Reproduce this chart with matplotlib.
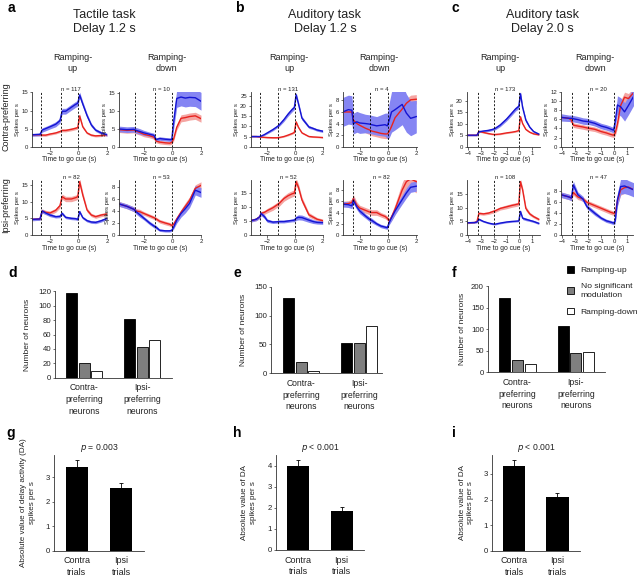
import matplotlib
matplotlib.use('Agg')
import matplotlib.pyplot as plt
from matplotlib.patches import Patch

plt.rcParams['font.family'] = ['Liberation Sans', 'DejaVu Sans']

W, H = 640, 576

# ---------------- PSTH data (spikes per s) ----------------
# time grids (s, relative to go cue)
T_A = [-3.75, -3.2, -2.7, -2.55, -2.3, -2.0, -1.6, -1.3, -1.15, -0.9, -0.5, -0.2, -0.05, 0.08, 0.3, 0.6, 0.9, 1.2, 1.6, 2.0]
T_B = [-3.2, -2.8, -2.55, -2.45, -2.2, -2.0, -1.6, -1.3, -1.15, -0.8, -0.5, -0.2, -0.05, 0.08, 0.25, 0.5, 1.0, 1.3, 1.6, 2.0]
T_C = [-4.1, -3.5, -3.3, -3.15, -2.8, -2.4, -2.1, -1.9, -1.5, -1.0, -0.6, -0.3, -0.05, 0.08, 0.25, 0.5, 0.8, 1.1, 1.5]

# a: tactile task, contra-preferring
A_UP_C_BLUE = [3.3, 3.3, 3.4, 4.6, 5.0, 5.5, 6.2, 7.2, 9.8, 9.8, 10.9, 11.7, 12.0, 14.3, 11.8, 8.6, 6.0, 4.6, 3.8, 3.3]
A_UP_C_BLUE_SEM = [0.4, 0.4, 0.4, 0.6, 0.6, 0.6, 0.7, 0.7, 0.8, 0.8, 0.8, 0.8, 0.8, 0.8, 0.7, 0.6, 0.5, 0.4, 0.4, 0.4]
A_UP_C_RED = [3.3, 3.3, 3.3, 3.2, 3.2, 3.5, 3.8, 4.2, 4.5, 4.5, 4.8, 5.1, 5.3, 8.5, 5.5, 3.8, 3.2, 3.0, 3.1, 3.3]
A_UP_C_RED_SEM = [0.3, 0.3, 0.3, 0.3, 0.3, 0.3, 0.3, 0.3, 0.4, 0.4, 0.4, 0.4, 0.4, 0.6, 0.4, 0.3, 0.3, 0.3, 0.3, 0.3]
A_DN_C_BLUE = [5.0, 4.8, 4.9, 4.6, 4.3, 3.9, 3.5, 3.2, 2.0, 2.3, 2.1, 2.0, 2.0, 7.0, 13.6, 14.0, 13.7, 13.9, 13.8, 12.8]
A_DN_C_BLUE_SEM = [0.8, 0.8, 0.8, 0.8, 0.8, 0.7, 0.6, 0.6, 0.5, 0.5, 0.5, 0.5, 0.6, 2.0, 2.5, 2.5, 2.5, 2.5, 2.5, 2.5]
A_DN_C_RED = [4.8, 4.6, 4.7, 4.4, 4.0, 3.5, 3.1, 2.7, 1.6, 1.3, 1.1, 1.0, 1.2, 2.2, 5.5, 8.0, 8.2, 8.5, 8.7, 7.9]
A_DN_C_RED_SEM = [0.8, 0.8, 0.8, 0.8, 0.7, 0.7, 0.6, 0.6, 0.5, 0.5, 0.5, 0.5, 0.5, 0.6, 0.8, 1.0, 1.0, 1.0, 1.0, 1.0]
# a: tactile task, ipsi-preferring
A_UP_I_BLUE = [4.7, 4.7, 4.8, 7.2, 6.6, 6.0, 5.5, 5.6, 6.5, 5.3, 5.0, 4.9, 4.7, 7.0, 5.2, 4.3, 3.9, 3.8, 4.3, 5.0]
A_UP_I_BLUE_SEM = [0.4, 0.4, 0.4, 0.6, 0.5, 0.5, 0.4, 0.4, 0.5, 0.4, 0.4, 0.4, 0.4, 0.5, 0.4, 0.4, 0.4, 0.4, 0.4, 0.4]
A_UP_I_RED = [4.7, 4.7, 4.8, 7.2, 6.8, 6.6, 7.4, 8.8, 11.5, 10.8, 10.8, 11.2, 11.5, 16.0, 12.0, 7.5, 6.0, 5.5, 6.0, 6.3]
A_UP_I_RED_SEM = [0.4, 0.4, 0.4, 0.6, 0.6, 0.6, 0.6, 0.7, 0.8, 0.8, 0.8, 0.8, 0.8, 1.0, 0.9, 0.6, 0.5, 0.5, 0.5, 0.5]
A_DN_I_BLUE = [5.2, 4.8, 4.3, 3.9, 3.4, 2.8, 2.0, 1.5, 1.3, 0.8, 0.7, 0.7, 0.8, 1.3, 2.5, 3.6, 4.4, 5.3, 7.5, 7.1]
A_DN_I_BLUE_SEM = [0.4, 0.4, 0.4, 0.4, 0.4, 0.3, 0.3, 0.3, 0.3, 0.2, 0.2, 0.2, 0.2, 0.3, 0.5, 0.6, 0.7, 0.7, 0.8, 0.8]
A_DN_I_RED = [5.2, 4.8, 4.3, 4.0, 3.9, 3.6, 3.2, 2.9, 2.7, 2.3, 2.0, 1.8, 1.6, 1.8, 2.7, 3.8, 4.8, 5.8, 7.8, 8.3]
A_DN_I_RED_SEM = [0.4, 0.4, 0.4, 0.4, 0.4, 0.3, 0.3, 0.3, 0.3, 0.3, 0.3, 0.3, 0.3, 0.3, 0.4, 0.5, 0.6, 0.6, 0.6, 0.6]

# b: auditory task 1.2 s, contra-preferring
B_UP_C_BLUE = [5.0, 5.0, 5.0, 5.2, 6.0, 6.8, 8.4, 9.8, 10.6, 13.3, 16.0, 18.3, 19.2, 25.5, 21.0, 14.0, 9.7, 9.0, 8.2, 7.6]
B_UP_C_BLUE_SEM = [0.3, 0.3, 0.3, 0.4, 0.4, 0.5, 0.6, 0.6, 0.7, 0.9, 1.0, 1.1, 1.1, 1.3, 1.1, 0.9, 0.7, 0.6, 0.6, 0.6]
B_UP_C_RED = [5.0, 5.0, 4.8, 4.7, 4.6, 4.5, 4.4, 4.4, 4.5, 5.0, 5.7, 6.5, 7.0, 12.2, 9.5, 6.8, 5.0, 4.8, 4.7, 4.5]
B_UP_C_RED_SEM = [0.3, 0.3, 0.3, 0.3, 0.3, 0.3, 0.3, 0.3, 0.3, 0.3, 0.4, 0.4, 0.4, 0.6, 0.5, 0.4, 0.3, 0.3, 0.3, 0.3]
B_DN_C_BLUE = [6.0, 6.4, 6.3, 4.0, 4.3, 4.1, 4.0, 3.9, 3.8, 3.6, 3.7, 3.8, 3.6, 4.5, 6.0, 6.4, 7.3, 5.8, 4.9, 5.2]
B_DN_C_BLUE_SEM = [2.5, 2.5, 2.5, 1.8, 1.8, 1.8, 1.6, 1.6, 1.6, 1.6, 1.8, 2.0, 2.2, 3.0, 3.5, 3.5, 3.5, 3.3, 3.0, 2.8]
B_DN_C_RED = [6.0, 6.0, 6.0, 4.6, 4.0, 3.7, 3.2, 2.9, 2.7, 2.5, 2.3, 2.2, 2.2, 2.6, 3.5, 5.0, 6.5, 7.5, 8.1, 8.2]
B_DN_C_RED_SEM = [1.0, 1.0, 1.0, 0.8, 0.8, 0.8, 0.8, 0.8, 0.8, 0.8, 0.8, 0.8, 0.8, 0.8, 0.8, 0.8, 0.8, 0.8, 0.8, 0.8]
# b: auditory task 1.2 s, ipsi-preferring
B_UP_I_BLUE = [5.1, 5.6, 6.5, 7.7, 6.5, 5.1, 4.6, 4.7, 4.8, 4.8, 5.0, 5.2, 5.3, 6.0, 6.3, 6.2, 5.3, 4.8, 4.5, 4.4]
B_UP_I_BLUE_SEM = [0.5, 0.5, 0.6, 0.8, 0.7, 0.6, 0.5, 0.5, 0.5, 0.5, 0.5, 0.5, 0.6, 0.8, 0.9, 0.9, 0.8, 0.7, 0.6, 0.6]
B_UP_I_RED = [5.1, 5.6, 6.5, 7.7, 8.1, 8.7, 9.7, 10.7, 11.2, 13.0, 14.0, 14.7, 14.9, 19.0, 17.0, 12.5, 7.2, 6.4, 5.6, 5.1]
B_UP_I_RED_SEM = [0.5, 0.5, 0.6, 0.7, 0.7, 0.8, 0.9, 0.9, 1.0, 1.0, 1.1, 1.1, 1.1, 1.3, 1.2, 1.0, 0.8, 0.7, 0.6, 0.6]
B_DN_I_BLUE = [5.5, 5.4, 5.2, 6.2, 5.0, 4.3, 3.4, 2.8, 2.6, 2.0, 1.6, 1.4, 1.3, 2.2, 3.1, 4.3, 6.3, 7.5, 8.5, 8.7]
B_DN_I_BLUE_SEM = [0.5, 0.5, 0.5, 0.6, 0.5, 0.5, 0.4, 0.4, 0.4, 0.3, 0.3, 0.3, 0.3, 0.4, 0.6, 0.7, 0.8, 0.9, 0.9, 0.9]
B_DN_I_RED = [5.5, 5.6, 5.8, 6.5, 5.3, 4.8, 4.4, 4.1, 4.0, 4.0, 3.6, 3.3, 3.0, 2.5, 3.2, 4.6, 8.0, 9.5, 10.0, 9.5]
B_DN_I_RED_SEM = [0.5, 0.5, 0.6, 0.7, 0.6, 0.5, 0.5, 0.5, 0.5, 0.5, 0.4, 0.4, 0.4, 0.4, 0.6, 0.9, 1.3, 1.5, 1.8, 2.0]

# c: auditory task 2.0 s, contra-preferring
C_UP_C_BLUE = [5.0, 5.0, 5.0, 6.5, 6.8, 7.1, 7.5, 7.9, 9.4, 12.0, 14.5, 16.4, 17.5, 23.0, 17.0, 11.5, 8.5, 6.6, 5.5]
C_UP_C_BLUE_SEM = [0.3, 0.3, 0.3, 0.4, 0.4, 0.5, 0.5, 0.6, 0.7, 0.8, 0.9, 0.9, 1.0, 1.0, 0.9, 0.7, 0.5, 0.4, 0.4]
C_UP_C_RED = [5.0, 5.0, 5.0, 6.7, 6.2, 5.7, 5.4, 5.3, 5.5, 6.0, 6.3, 6.6, 7.0, 13.0, 10.0, 7.5, 6.3, 5.6, 5.2]
C_UP_C_RED_SEM = [0.3, 0.3, 0.3, 0.4, 0.3, 0.3, 0.3, 0.3, 0.3, 0.3, 0.3, 0.3, 0.4, 0.6, 0.5, 0.4, 0.3, 0.3, 0.3]
C_DN_C_BLUE = [6.4, 6.2, 6.2, 6.1, 5.9, 5.6, 5.5, 5.4, 5.1, 4.5, 4.2, 3.9, 3.6, 5.5, 9.1, 8.7, 7.6, 9.0, 11.0]
C_DN_C_BLUE_SEM = [0.8, 0.7, 0.7, 0.7, 0.7, 0.7, 0.7, 0.6, 0.6, 0.6, 0.6, 0.6, 0.6, 1.2, 2.0, 2.0, 2.0, 2.0, 2.0]
C_DN_C_RED = [6.4, 6.2, 5.8, 4.7, 4.5, 4.3, 4.1, 4.0, 3.8, 3.3, 3.0, 2.7, 2.5, 3.0, 5.0, 9.0, 10.8, 10.5, 11.8]
C_DN_C_RED_SEM = [0.6, 0.6, 0.6, 0.5, 0.5, 0.5, 0.5, 0.5, 0.5, 0.5, 0.5, 0.5, 0.5, 0.6, 0.9, 1.1, 1.1, 1.1, 1.1]
# c: auditory task 2.0 s, ipsi-preferring
C_UP_I_BLUE = [4.5, 4.6, 4.8, 5.8, 5.0, 4.4, 4.1, 4.0, 4.4, 4.8, 5.0, 5.1, 5.2, 8.7, 6.2, 5.8, 5.4, 5.0, 4.3]
C_UP_I_BLUE_SEM = [0.3, 0.3, 0.3, 0.4, 0.3, 0.3, 0.3, 0.3, 0.3, 0.3, 0.3, 0.3, 0.3, 0.5, 0.5, 0.5, 0.4, 0.4, 0.4]
C_UP_I_RED = [4.5, 4.6, 5.0, 8.0, 7.8, 8.1, 8.6, 8.9, 9.8, 10.4, 10.9, 11.2, 11.5, 19.7, 16.6, 9.8, 7.8, 6.8, 5.8]
C_UP_I_RED_SEM = [0.3, 0.3, 0.3, 0.5, 0.5, 0.5, 0.6, 0.6, 0.6, 0.7, 0.7, 0.7, 0.7, 1.0, 1.0, 0.8, 0.6, 0.5, 0.5]
C_DN_I_BLUE = [7.4, 7.0, 6.8, 9.2, 7.4, 6.6, 5.2, 4.8, 4.0, 3.1, 2.6, 2.4, 2.2, 2.6, 6.5, 8.9, 9.0, 8.7, 8.3]
C_DN_I_BLUE_SEM = [0.5, 0.5, 0.5, 0.7, 0.5, 0.5, 0.4, 0.4, 0.4, 0.3, 0.3, 0.3, 0.3, 0.5, 1.2, 1.4, 1.4, 1.3, 1.3]
C_DN_I_RED = [7.4, 7.0, 6.8, 7.8, 7.0, 6.6, 6.0, 5.8, 5.4, 4.9, 4.5, 4.2, 4.0, 4.0, 6.3, 8.3, 8.7, 8.8, 8.3]
C_DN_I_RED_SEM = [0.5, 0.5, 0.5, 0.5, 0.5, 0.4, 0.4, 0.4, 0.4, 0.4, 0.4, 0.4, 0.4, 0.4, 0.8, 1.0, 1.0, 1.0, 1.0]

N_CONTRA = [117, 10, 131, 4, 173, 20]
N_IPSI = [82, 53, 52, 82, 108, 47]

# ---------------- bar data ----------------
GROUPS = ['Contra-\npreferring\nneurons', 'Ipsi-\npreferring\nneurons']
D_UP, D_NS, D_DOWN = [117, 82], [20, 42], [10, 53]
E_UP, E_NS, E_DOWN = [131, 52], [20, 52], [4, 82]
F_UP, F_NS, F_DOWN = [173, 108], [29, 45], [20, 47]

TRIALS = ['Contra\ntrials', 'Ipsi\ntrials']
G_MEAN, G_SEM = [3.43, 2.57], [0.27, 0.20]
H_MEAN, H_SEM = [3.98, 1.86], [0.28, 0.16]
I_MEAN, I_SEM = [3.32, 2.11], [0.22, 0.16]

BLUE, BLUE_BAND = '#1414d2', '#8585f3'
RED, RED_BAND = '#e8231f', '#f5a5a2'
TXT = '#222222'

fig = plt.figure(figsize=(W / 100, H / 100), dpi=100)


def add_ax(l, r, t, b):
    return fig.add_axes([l / W, 1 - b / H, (r - l) / W, (b - t) / H])


def ftext(x, y, s, **kw):
    fig.text(x / W, 1 - y / H, s, color=TXT, **kw)


def style(ax, fs):
    for s in ['top', 'right']:
        ax.spines[s].set_visible(False)
    for s in ['left', 'bottom']:
        ax.spines[s].set_linewidth(0.6)
        ax.spines[s].set_color('#333333')
    ax.tick_params(labelsize=fs, width=0.5, length=1.8, pad=1, colors='#333333', labelcolor=TXT)


def psth(box, t, blue, bsem, red, rsem, xlim, ylim, yticks, xticks, events, n):
    ax = add_ax(*box)
    style(ax, 4.3)
    for m, s, c, bc in [(red, rsem, RED, RED_BAND), (blue, bsem, BLUE, BLUE_BAND)]:
        lo = [a - e for a, e in zip(m, s)]
        hi = [a + e for a, e in zip(m, s)]
        ax.fill_between(t, lo, hi, color=bc, lw=0)
        ax.plot(t, m, color=c, lw=1.0)
    for e in events:
        ax.axvline(e, color='k', ls=(0, (2.5, 2)), lw=0.6)
    ax.set_xlim(*xlim)
    ax.set_ylim(*ylim)
    ax.set_yticks(yticks)
    ax.set_xticks(xticks)
    ax.set_ylabel('Spikes per s', fontsize=4.3, labelpad=1, color=TXT)
    ax.set_xlabel('Time to go cue (s)', fontsize=4.9, labelpad=0.5, color=TXT)
    ax.text(0.52, 1.0, 'n = %d' % n, transform=ax.transAxes, ha='center', va='bottom',
            fontsize=4.3, color=TXT)
    return ax


EV_A, EV_B, EV_C = [-2.65, -1.2, 0], [-2.5, -1.25, 0], [-3.25, -2.0, 0]
R1, R2 = (91.7, 146.7), (180, 235)

# row 1: contra-preferring
psth((32, 107) + R1, T_A, A_UP_C_BLUE, A_UP_C_BLUE_SEM, A_UP_C_RED, A_UP_C_RED_SEM,
     (-3.26, 2), (0, 15.2), [0, 5, 10, 15], [-2, 0, 2], EV_A, N_CONTRA[0])
psth((119, 201) + R1, T_A, A_DN_C_BLUE, A_DN_C_BLUE_SEM, A_DN_C_RED, A_DN_C_RED_SEM,
     (-3.75, 2), (0, 15.5), [0, 5, 10, 15], [-2, 0, 2], EV_A, N_CONTRA[1])
psth((250.7, 322.7) + R1, T_B, B_UP_C_BLUE, B_UP_C_BLUE_SEM, B_UP_C_RED, B_UP_C_RED_SEM,
     (-3.2, 2), (0, 27), [0, 5, 10, 15, 20, 25], [-2, 0, 2], EV_B, N_CONTRA[2])
psth((342.7, 417) + R1, T_B, B_DN_C_BLUE, B_DN_C_BLUE_SEM, B_DN_C_RED, B_DN_C_RED_SEM,
     (-3.2, 2.05), (0, 9.5), [0, 2, 4, 6, 8], [-2, 0, 2], EV_B, N_CONTRA[3])
psth((466.7, 540) + R1, T_C, C_UP_C_BLUE, C_UP_C_BLUE_SEM, C_UP_C_RED, C_UP_C_RED_SEM,
     (-4.1, 1.6), (0, 23.9), [0, 5, 10, 15, 20], [-4, -3, -2, -1, 0, 1], EV_C, N_CONTRA[4])
psth((561, 633) + R1, T_C, C_DN_C_BLUE, C_DN_C_BLUE_SEM, C_DN_C_RED, C_DN_C_RED_SEM,
     (-4.1, 1.45), (0, 12), [0, 2, 4, 6, 8, 10, 12], [-4, -3, -2, -1, 0, 1], EV_C, N_CONTRA[5])
# row 2: ipsi-preferring
psth((32, 107) + R2, T_A, A_UP_I_BLUE, A_UP_I_BLUE_SEM, A_UP_I_RED, A_UP_I_RED_SEM,
     (-3.26, 2), (0, 16.5), [0, 5, 10, 15], [-2, 0, 2], EV_A, N_IPSI[0])
psth((119, 201) + R2, T_A, A_DN_I_BLUE, A_DN_I_BLUE_SEM, A_DN_I_RED, A_DN_I_RED_SEM,
     (-3.75, 2), (0, 9.2), [0, 2, 4, 6, 8], [-2, 0, 2], EV_A, N_IPSI[1])
psth((250.7, 322.7) + R2, T_B, B_UP_I_BLUE, B_UP_I_BLUE_SEM, B_UP_I_RED, B_UP_I_RED_SEM,
     (-3.2, 2), (0, 19.6), [0, 5, 10, 15], [-2, 0, 2], EV_B, N_IPSI[2])
psth((342.7, 417) + R2, T_B, B_DN_I_BLUE, B_DN_I_BLUE_SEM, B_DN_I_RED, B_DN_I_RED_SEM,
     (-3.2, 2.05), (0, 9.8), [0, 2, 4, 6, 8], [-2, 0, 2], EV_B, N_IPSI[3])
psth((466.7, 540) + R2, T_C, C_UP_I_BLUE, C_UP_I_BLUE_SEM, C_UP_I_RED, C_UP_I_RED_SEM,
     (-4.1, 1.6), (0, 20.3), [0, 5, 10, 15], [-4, -3, -2, -1, 0, 1], EV_C, N_IPSI[4])
psth((561, 633) + R2, T_C, C_DN_I_BLUE, C_DN_I_BLUE_SEM, C_DN_I_RED, C_DN_I_RED_SEM,
     (-4.1, 1.45), (0, 10.1), [0, 2, 4, 6, 8], [-4, -3, -2, -1, 0, 1], EV_C, N_IPSI[5])

# titles for the top panels
for x, s in [(104.5, 'Tactile task\nDelay 1.2 s'), (325, 'Auditory task\nDelay 1.2 s'),
             (542, 'Auditory task\nDelay 2.0 s')]:
    ftext(x, 22, s, ha='center', va='center', fontsize=9, linespacing=1.2)
for x in [72.7, 289, 500]:
    ftext(x, 63, 'Ramping-\nup', ha='center', va='center', fontsize=6.5, linespacing=1.15)
for x in [166.7, 379, 595]:
    ftext(x, 63, 'Ramping-\ndown', ha='center', va='center', fontsize=6.5, linespacing=1.15)
ftext(6, 117, 'Contra-preferring', rotation=90, ha='center', va='center', fontsize=6.5)
ftext(6, 205, 'Ipsi-preferring', rotation=90, ha='center', va='center', fontsize=6.5)


# ---------------- bar charts d, e, f ----------------
def count_bars(box, up, ns, down, xlim, ylim, yticks, ylab_x):
    ax = add_ax(*box)
    style(ax, 5.6)
    x = [0, 1]
    off, w = 0.218, 0.19
    ax.bar([i - off for i in x], up, w, color='black', edgecolor='black', lw=0.6)
    ax.bar(x, ns, w, color='#7f7f7f', edgecolor='black', lw=0.6)
    ax.bar([i + off for i in x], down, w, color='white', edgecolor='black', lw=0.6)
    ax.set_xlim(*xlim)
    ax.set_ylim(*ylim)
    ax.set_yticks(yticks)
    ax.set_xticks(x)
    ax.set_xticklabels(GROUPS, fontsize=6.2, linespacing=1.4)
    ax.tick_params(axis='x', length=0, pad=4)
    ax.set_ylabel('Number of neurons', fontsize=6, color=TXT)
    ax.yaxis.set_label_coords(ylab_x, 0.5)
    return ax


count_bars((55, 172, 291.3, 377.7), D_UP, D_NS, D_DOWN, (-0.51, 1.52), (0, 120),
           [0, 20, 40, 60, 80, 100, 120], -0.205)
count_bars((271, 381.7, 286.7, 373.3), E_UP, E_NS, E_DOWN, (-0.52, 1.39), (0, 150),
           [0, 50, 100, 150], -0.217)
ax_f = count_bars((487.7, 605, 286.3, 372.3), F_UP, F_NS, F_DOWN, (-0.51, 1.5), (0, 200),
                  [0, 50, 100, 150, 200], -0.185)

handles = [Patch(facecolor='black', edgecolor='black', lw=0.6),
           Patch(facecolor='#7f7f7f', edgecolor='black', lw=0.6),
           Patch(facecolor='white', edgecolor='black', lw=0.6)]
leg = fig.legend(handles, ['Ramping-up', 'No significant\nmodulation', 'Ramping-down'],
                 loc='upper left', bbox_to_anchor=(567 / W, 1 - 266 / H), frameon=False,
                 fontsize=6.1, handlelength=0.85, handleheight=0.85, handletextpad=0.75,
                 labelspacing=1.0, borderaxespad=0, borderpad=0, labelcolor=TXT)
for t in leg.get_texts():
    t.set_linespacing(1.45)


# ---------------- bar charts g, h, i ----------------
def da_bars(box, mean, sem, ylim, yticks, ylab, ylab_x, ptxt):
    ax = add_ax(*box)
    style(ax, 5.6)
    ax.bar([0, 1], mean, 0.51, color='black', yerr=[[0, 0], sem],
           error_kw=dict(ecolor='black', elinewidth=0.6, capsize=1.2, capthick=0.6))
    ax.set_xlim(-0.52, 1.52)
    ax.set_ylim(*ylim)
    ax.set_yticks(yticks)
    ax.set_xticks([0, 1])
    ax.set_xticklabels(TRIALS, fontsize=6.5, linespacing=1.35)
    ax.tick_params(axis='x', length=0, pad=4)
    ax.set_ylabel(ylab, fontsize=5.8, color=TXT, linespacing=1.3)
    ax.yaxis.set_label_coords(ylab_x, 0.5)
    ax.text(0.5, 1.07, ptxt, transform=ax.transAxes, ha='center', va='center',
            fontsize=6.2, color=TXT)
    return ax


da_bars((54, 144, 455, 550.7), G_MEAN, G_SEM, (0, 3.9), [0, 1, 2, 3],
        'Absolute value of delay activity (DA)\nspikes per s', -0.2, '$p$ = 0.003')
da_bars((276, 364, 455, 550), H_MEAN, H_SEM, (0, 4.5), [0, 1, 2, 3, 4],
        'Absolute value of DA\nspikes per s', -0.22, '$p$ < 0.001')
da_bars((491.7, 580, 455, 550.7), I_MEAN, I_SEM, (0, 3.74), [0, 1, 2, 3],
        'Absolute value of DA\nspikes per s', -0.2, '$p$ < 0.001')

# panel letters
for x, y, s in [(8, 8, 'a'), (235, 8, 'b'), (452, 8, 'c'),
                (8, 273, 'd'), (233, 273, 'e'), (452, 273, 'f'),
                (6, 433, 'g'), (233, 433, 'h'), (452, 433, 'i')]:
    fig.text(x / W, 1 - y / H, s, fontsize=10, fontweight='bold', ha='left', va='center')

fig.savefig('out.png', dpi=100)
